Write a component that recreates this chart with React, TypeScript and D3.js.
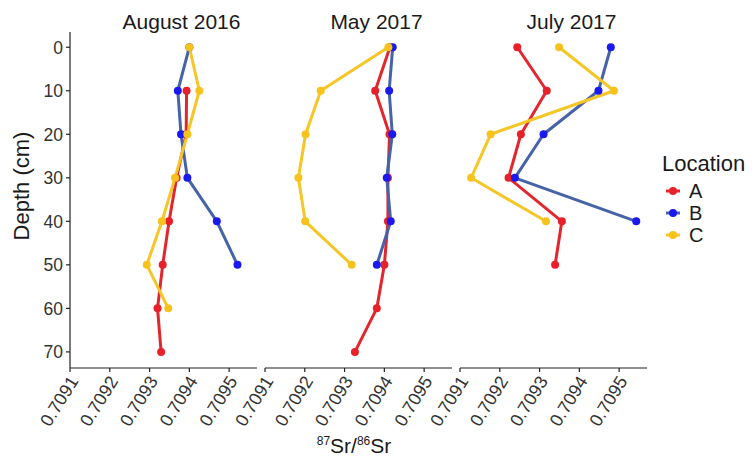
import React from 'react';
import * as d3 from 'd3';

// depth profiles, 87Sr/86Sr by depth (cm); null = no sample
const depths = [0, 10, 20, 30, 40, 50, 60, 70];
const xTicks = [0.7091, 0.7092, 0.7093, 0.7094, 0.7095];
const yTicks = [0, 10, 20, 30, 40, 50, 60, 70];
const panelTitles = ['August 2016', 'May 2017', 'July 2017'];
const locations = ['A', 'B', 'C'];

const aug2016A = [null, 0.709393, 0.709392, 0.709368, 0.709349, 0.709333, 0.70932, 0.709329];
const aug2016B = [0.7094, 0.709371, 0.709379, 0.709395, 0.709469, 0.709521];
const aug2016C = [0.7094, 0.709425, 0.709395, 0.709364, 0.709331, 0.709293, 0.709347];

const may2017A = [0.709414, 0.709377, 0.709413, 0.709409, 0.709409, 0.7094, 0.709381, 0.709326];
const may2017B = [0.709421, 0.709412, 0.70942, 0.709406, 0.709416, 0.709381];
const may2017C = [0.70941, 0.70924, 0.709202, 0.709184, 0.709201, 0.709318];

const jul2017A = [0.709244, 0.709318, 0.709253, 0.709222, 0.709356, 0.709339];
const jul2017B = [0.709479, 0.709448, 0.70931, 0.709238, 0.709543];
const jul2017C = [0.709349, 0.709487, 0.709177, 0.709128, 0.709316];

const panels = [
  [aug2016A, aug2016B, aug2016C],
  [may2017A, may2017B, may2017C],
  [jul2017A, jul2017B, jul2017C],
];

const pointColors = ['#e8202a', '#1a1af0', '#f6c31c'];
const lineColors = ['#e2262e', '#4763a8', '#f6c526'];

const font = 'Liberation Sans, Arial, Helvetica, sans-serif';

const W = 755;
const H = 456;
const panelLefts = [70, 265, 460];
const panelWidth = 187;
const top = 32;
const bottom = 368;

const x = d3.scaleLinear().domain([0.7091, 0.70957]).range([0, panelWidth]);
const y = d3.scaleLinear().domain([-3.5, 73.7]).range([top, bottom]);

const toPoints = (vals) =>
  vals
    .map((v, i) => ({ depth: depths[i], value: v }))
    .filter((d) => d.value != null);

const Panel = ({ series, left, title, first }) => {
  const line = d3
    .line()
    .x((d) => x(d.value))
    .y((d) => y(d.depth));
  const pts = series.map(toPoints);
  return (
    <g transform={`translate(${left},0)`}>
      <text x={panelWidth / 2 + 18} y={29} textAnchor="middle" fontSize={21} fill="#1a1a1a">
        {title}
      </text>
      {pts.map((p, i) => (
        <path key={'l' + i} d={line(p)} fill="none" stroke={lineColors[i]} strokeWidth={3} strokeLinejoin="round" />
      ))}
      {pts.map((p, i) =>
        p.map((d, j) => (
          <circle key={'p' + i + '-' + j} cx={x(d.value)} cy={y(d.depth)} r={4} fill={pointColors[i]} />
        ))
      )}
      {/* x axis */}
      <line x1={0} x2={panelWidth} y1={bottom} y2={bottom} stroke="#222" strokeWidth={1.2} />
      {xTicks.map((t) => (
        <g key={t} transform={`translate(${x(t)},${bottom})`}>
          <line y1={0} y2={4} stroke="#222" strokeWidth={1.2} />
          <text
            transform="translate(9,13) rotate(-58)"
            textAnchor="end"
            fontSize={18}
            fill="#333"
          >
            {t.toFixed(4)}
          </text>
        </g>
      ))}
      {first && (
        <g>
          <line x1={0} x2={0} y1={top} y2={bottom} stroke="#222" strokeWidth={1.2} />
          {yTicks.map((t) => (
            <g key={t} transform={`translate(0,${y(t)})`}>
              <line x1={-4} x2={0} stroke="#222" strokeWidth={1.2} />
              <text x={-7} dy="0.36em" textAnchor="end" fontSize={17.5} fill="#333">
                {t}
              </text>
            </g>
          ))}
        </g>
      )}
    </g>
  );
};

export default function App() {
  const legendY = d3.scaleLinear().domain([0, 2]).range([191, 235]);
  return (
    <svg
      width={W}
      height={H}
      style={{ position: 'absolute', left: 0, top: 0, background: 'white', fontFamily: font }}
    >
      {panels.map((s, i) => (
        <Panel key={i} series={s} left={panelLefts[i]} title={panelTitles[i]} first={i === 0} />
      ))}
      <text transform="translate(29,186) rotate(-90)" textAnchor="middle" fontSize={22} fill="#1a1a1a">
        Depth (cm)
      </text>
      <text x={354} y={453} textAnchor="middle" fontSize={21} fill="#1a1a1a">
        <tspan fontSize={12} dy={-8}>87</tspan>
        <tspan dy={8}>Sr/</tspan>
        <tspan fontSize={12} dy={-8}>86</tspan>
        <tspan dy={8}>Sr</tspan>
      </text>
      <g>
        <text x={662} y={171} fontSize={22} fill="#1a1a1a">
          Location
        </text>
        {locations.map((loc, i) => (
          <g key={loc} transform={`translate(0,${legendY(i)})`}>
            <line x1={666} x2={680} stroke={lineColors[i]} strokeWidth={3} />
            <circle cx={673} cy={0} r={4} fill={pointColors[i]} />
            <text x={689} y={7} fontSize={20} fill="#1a1a1a">
              {loc}
            </text>
          </g>
        ))}
      </g>
    </svg>
  );
}
